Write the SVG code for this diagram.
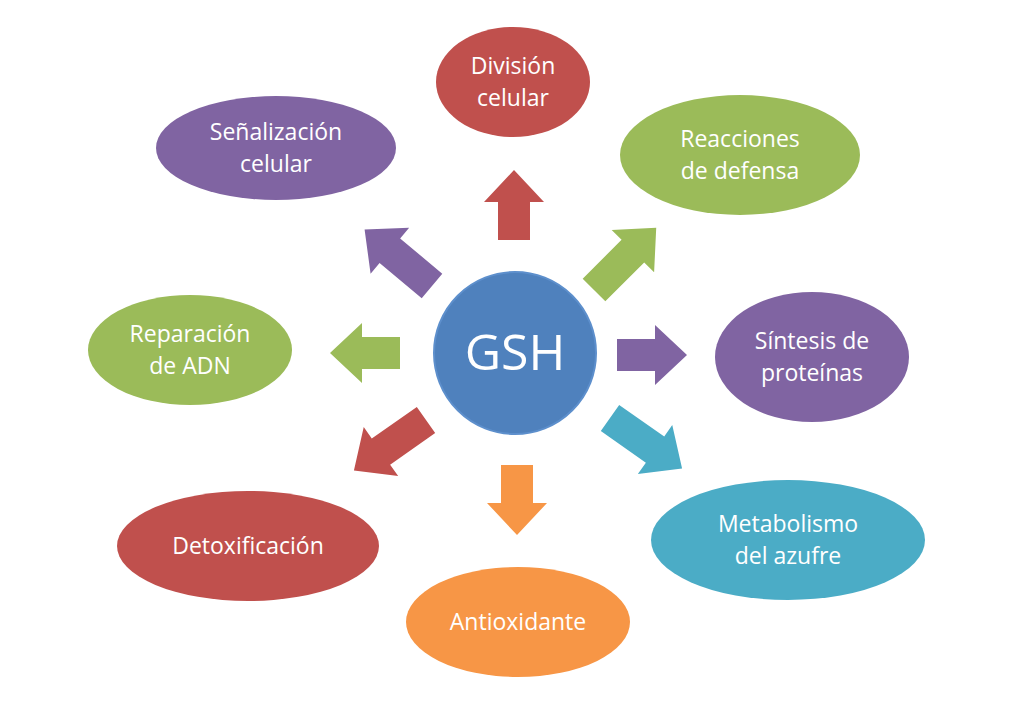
<svg xmlns="http://www.w3.org/2000/svg" width="1024" height="713" viewBox="0 0 1024 713">
<defs>
<style>
.t{font-family:"Open Sans","Liberation Sans",sans-serif;font-size:23px;fill:#fff;text-anchor:middle}
.r{fill:#c0504d}.g{fill:#9bbb59}.p{fill:#8064a2}.c{fill:#4bacc6}.o{fill:#f79646}
</style>
<path id="a" d="M0,-16 L38,-16 L38,-30 L70,0 L38,30 L38,16 L0,16 Z"/>
<path id="d" d="M0,-16 L55,-16 L55,-30 L88,0 L55,30 L55,16 L0,16 Z"/>
</defs>
<rect width="1024" height="713" fill="#fff"/>
<g id="connectors">
<use href="#a" class="r" transform="translate(514,240) rotate(-90)"/>
<use href="#a" class="o" transform="translate(517,465) rotate(90)"/>
<use href="#a" class="g" transform="translate(400,353) rotate(180)"/>
<use href="#a" class="p" transform="translate(617,355)"/>
<use href="#d" class="p" transform="translate(432,286) rotate(-140)"/>
<use href="#d" class="g" transform="translate(594,290) rotate(-45)"/>
<use href="#d" class="c" transform="translate(610,418) rotate(35)"/>
<use href="#d" class="r" transform="translate(426,420) rotate(145)"/>
</g>
<g id="gsh"><circle cx="515" cy="353" r="81" fill="#4f81bd" stroke="#5d8fcc" stroke-width="2"/><text class="t" x="515" y="370" style="font-size:50px">GSH</text></g>
<g id="division"><ellipse class="r" cx="513" cy="82" rx="77" ry="55"/><text class="t" x="513" y="74">División</text><text class="t" x="513" y="106">celular</text></g>
<g id="reacciones"><ellipse class="g" cx="740" cy="155" rx="120" ry="60"/><text class="t" x="740" y="147">Reacciones</text><text class="t" x="740" y="179">de defensa</text></g>
<g id="senalizacion"><ellipse class="p" cx="276" cy="148" rx="120" ry="52"/><text class="t" x="276" y="140">Señalización</text><text class="t" x="276" y="172">celular</text></g>
<g id="reparacion"><ellipse class="g" cx="190" cy="350" rx="102" ry="55"/><text class="t" x="190" y="342">Reparación</text><text class="t" x="190" y="374">de ADN</text></g>
<g id="sintesis"><ellipse class="p" cx="812" cy="357" rx="97" ry="65"/><text class="t" x="812" y="349">Síntesis de</text><text class="t" x="812" y="381">proteínas</text></g>
<g id="metabolismo"><ellipse class="c" cx="788" cy="540" rx="137" ry="60"/><text class="t" x="788" y="532">Metabolismo</text><text class="t" x="788" y="564">del azufre</text></g>
<g id="detox"><ellipse class="r" cx="248" cy="546" rx="131" ry="55"/><text class="t" x="248" y="554">Detoxificación</text></g>
<g id="antiox"><ellipse class="o" cx="518" cy="622" rx="112" ry="55"/><text class="t" x="518" y="630">Antioxidante</text></g>
</svg>
